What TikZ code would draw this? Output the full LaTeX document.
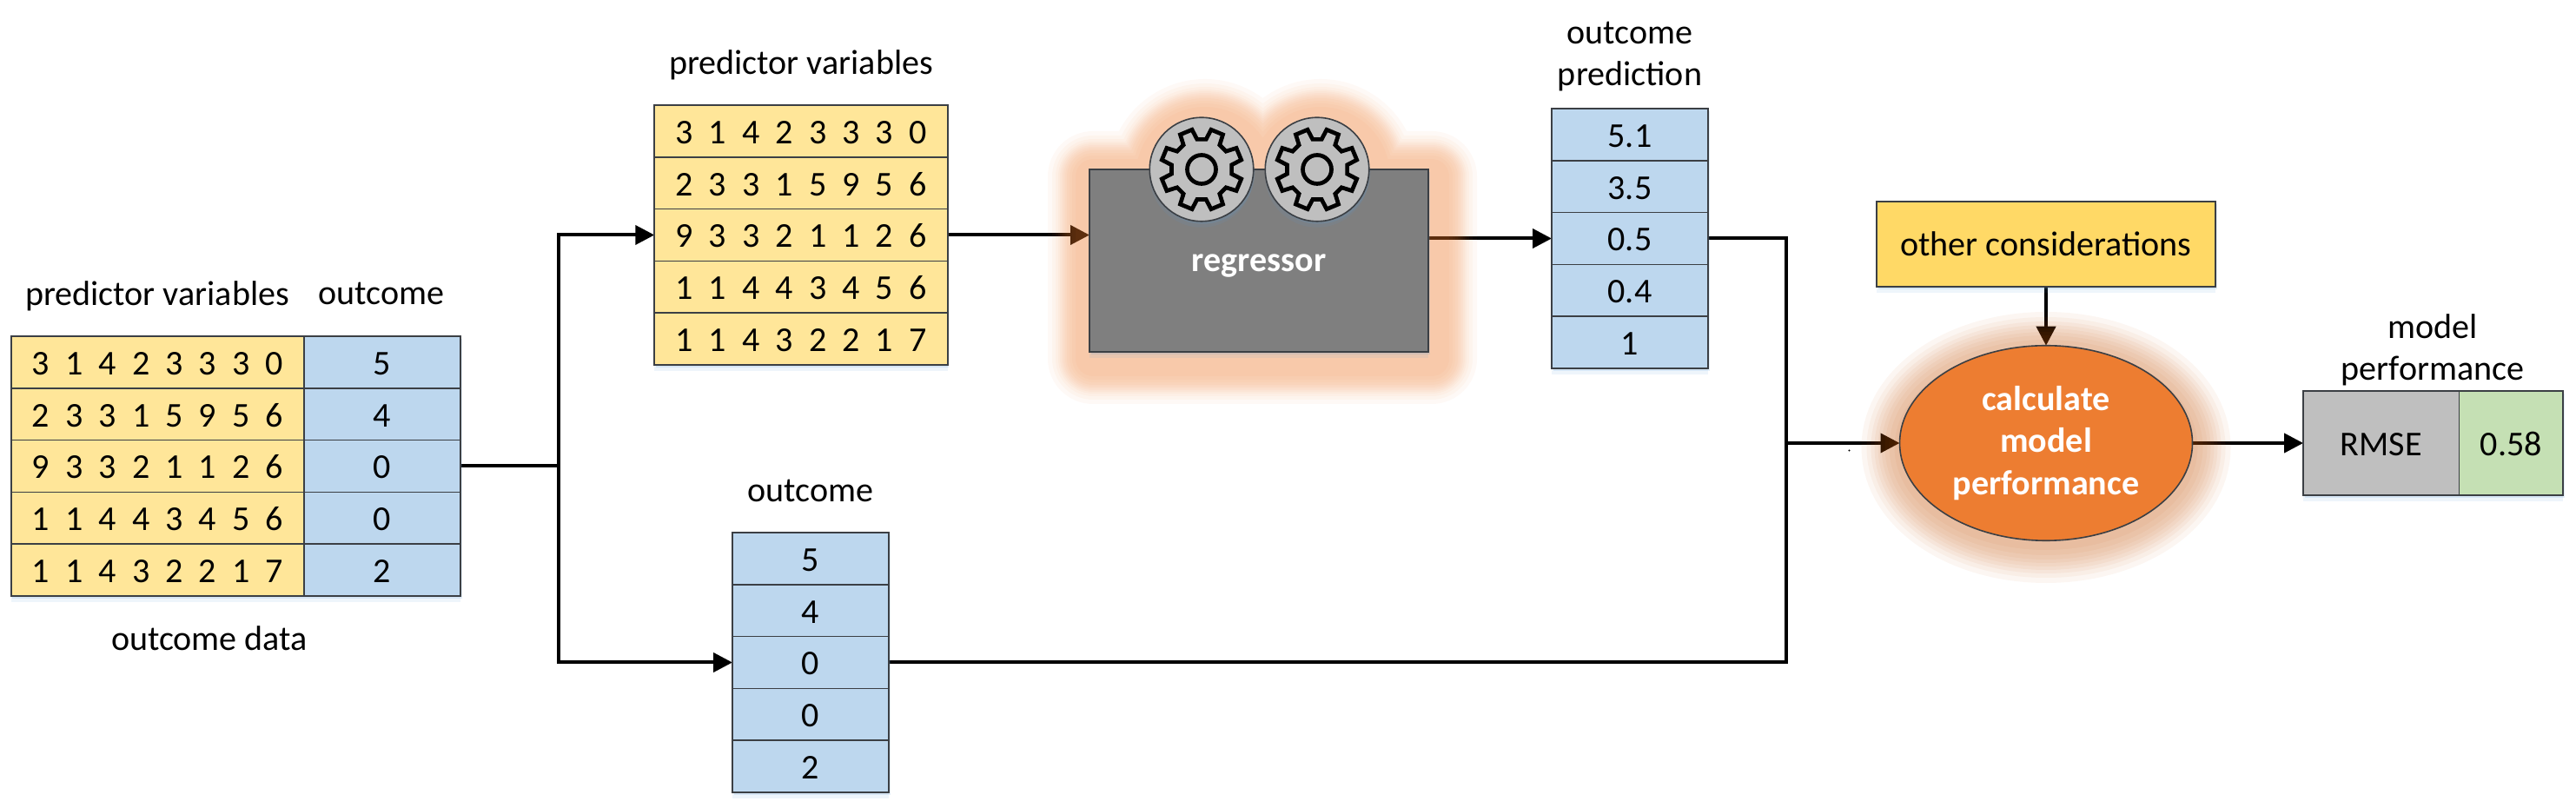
\documentclass[tikz,border=0pt]{standalone}
\usepackage{fontspec}
\setmainfont{Carlito}
\definecolor{rcYellow}{HTML}{FFE699}
\definecolor{rcGold}{HTML}{FFD966}
\definecolor{rcBlue}{HTML}{BDD7EE}
\definecolor{rcGrey}{HTML}{7F7F7F}
\definecolor{rcSilver}{HTML}{BFBFBF}
\definecolor{rcGreen}{HTML}{C5E0B4}
\definecolor{rcOrange}{HTML}{ED7D31}
\definecolor{rcRust}{HTML}{C55A11}
\definecolor{rcEdge}{HTML}{3B3F44}
\definecolor{rcShadow}{HTML}{5B9BD5}
\usetikzlibrary{positioning,arrows.meta,shapes.geometric,shadows,backgrounds}
\tikzset{
  every node/.style={font=\fontsize{11.4}{13.7}\selectfont},
  softshadow/.style={
    general shadow={shadow xshift=.015cm, shadow yshift=-.03cm, fill=rcShadow, opacity=.16},
    general shadow={shadow yshift=-.07cm, fill=rcShadow, opacity=.1}},
  cell/.style={rectangle, draw=rcEdge, line width=.016cm, outer sep=0pt, inner sep=0pt,
    minimum height=.598cm, text height=.29cm, text depth=0pt, softshadow},
  numrow/.style={cell, fill=rcYellow, minimum width=3.375cm,
    font={\fontsize{11.4}{13.7}\selectfont\spaceskip=.452em\relax}},
  outrow/.style={cell, fill=rcBlue, minimum width=1.8cm},
  caption/.style={align=center},
  wire/.style={line width=.04cm},
  flow/.style={wire, -{Triangle[length=.22cm,width=.22cm]}},
  gearicon/.pic={
    \draw[line width=.047cm, miter limit=4] (8.5:.35)
      \foreach \a in {22.5,67.5,112.5,157.5,202.5,247.5,292.5,337.5} {
        -- ({\a-14}:.35) -- ({\a-9}:.47) -- ({\a+9}:.47) -- ({\a+14}:.35)
      } -- cycle;
    \draw[line width=.047cm] (0,0) circle (.165);
  }
}

\begin{document}
\begin{tikzpicture}
  \useasboundingbox (0,0) rectangle (29.65,9.3);

  \foreach \vals [count=\i] in {3 1 4 2 3 3 3 0, 2 3 3 1 5 9 5 6, 9 3 3 2 1 1 2 6, 1 1 4 4 3 4 5 6, 1 1 4 3 2 2 1 7}
    \node[numrow] (left\i) at (1.815,{5.131-.598*(\i-1)}) {\vals};
  \foreach \vals [count=\i] in {5,4,0,0,2}
    \node[outrow] (leftout\i) at (4.4,{5.131-.598*(\i-1)}) {\vals};
  \node[caption] (leftpred) at (1.81,5.89) {predictor variables};
  \node[caption] (leftoutcome) at (4.39,5.92) {outcome};
  \node[caption] (leftdata) at (2.41,1.95) {outcome data};

  \foreach \vals [count=\i] in {3 1 4 2 3 3 3 0, 2 3 3 1 5 9 5 6, 9 3 3 2 1 1 2 6, 1 1 4 4 3 4 5 6, 1 1 4 3 2 2 1 7}
    \node[numrow] (mid\i) at (9.22,{7.791-.598*(\i-1)}) {\vals};
  \node[caption] (midpred) at (9.22,8.55) {predictor variables};

  \foreach \vals [count=\i] in {5,4,0,0,2}
    \node[outrow] (low\i) at (9.33,{2.871-.598*(\i-1)}) {\vals};
  \node[caption] (lowoutcome) at (9.33,3.65) {outcome};

  \node[rectangle, draw=rcEdge, line width=.016cm, fill=rcGrey, outer sep=0pt, softshadow,
    minimum width=3.9cm, minimum height=2.1cm] (regressor) at (14.49,6.3) {};
  \foreach \x/\nm in {13.83/gearA,15.16/gearB} {
    \node[circle, draw=rcEdge, line width=.016cm, fill=rcSilver, inner sep=0pt, softshadow,
      minimum size=1.195cm] (\nm) at (\x,7.35) {};
    \pic at (\nm) {gearicon};
  }
  \node[text=white, font=\fontsize{11.4}{13.7}\selectfont\bfseries] (regressortext) at (14.49,6.24) {regressor};

  \foreach \vals [count=\i] in {5.1,3.5,0.5,0.4,1}
    \node[outrow] (pred\i) at (18.76,{7.751-.598*(\i-1)}) {\vals};
  \node[caption] (predlabel) at (18.76,8.65) {outcome\\prediction};

  \node[rectangle, draw=rcEdge, line width=.016cm, fill=rcGold, outer sep=0pt, softshadow,
    minimum width=3.9cm, minimum height=.98cm] (other) at (23.55,6.49) {other considerations};
  \node[ellipse, draw=rcEdge, line width=.016cm, fill=rcOrange, outer sep=0pt, inner sep=0pt,
    minimum width=3.37cm, minimum height=2.245cm, align=center, text=white,
    font=\fontsize{11.4}{13.7}\selectfont\bfseries] (calc) at (23.55,4.2)
    {calculate\\model\\performance};

  \node[cell, fill=rcSilver, minimum width=1.795cm, minimum height=1.2cm] (rmse) at (27.408,4.2) {RMSE};
  \node[cell, fill=rcGreen, minimum width=1.195cm, minimum height=1.2cm] (score) at (28.903,4.2) {0.58};
  \node[caption] (scorelabel) at (28.0,5.27) {model\\performance};

  \coordinate (split) at (6.43,0 |- leftout3);
  \coordinate (merge) at (20.56,0 |- calc);
  \coordinate (speck) at (21.285,4.115);
  \fill (speck) circle (.012);

  \begin{scope}[on background layer]
    \draw[wire] (leftout3.east) -- (split);
    \draw[flow] (split) |- (mid3.west);
    \draw[flow] (split) |- (low3.west);
    \draw[flow] (mid3.east) -- (mid3.east -| regressor.west);
    \draw[flow] (pred3.west -| regressor.east) -- (pred3.west);
    \draw[wire] (pred3.east) -| (merge);
    \draw[wire] (low3.east) -| (merge);
    \draw[flow] (merge) -- (calc.west);
    \draw[flow] (other.south) -- (calc.north);
    \draw[flow] (calc.east) -- (rmse.west);
    \foreach \w in {20,24,27,30,32,34,36,38,40,43,47,52}
      \draw[rcOrange, opacity=.042, line width=\w*.02cm, line join=round]
        ([shift={(.04,-.08)}]regressor.south west) rectangle ([shift={(.04,-.08)}]regressor.north east)
        ([shift={(.04,-.08)}]gearA) circle (.6) ([shift={(.04,-.08)}]gearB) circle (.6);
    \foreach \w in {6,12,17,21,25,29,33,38,44}
      \draw[rcRust, opacity=.055, line width=\w*.02cm]
        ([shift={(0,-.05)}]calc) ellipse (1.685 and 1.12);
  \end{scope}
\end{tikzpicture}
\end{document}
